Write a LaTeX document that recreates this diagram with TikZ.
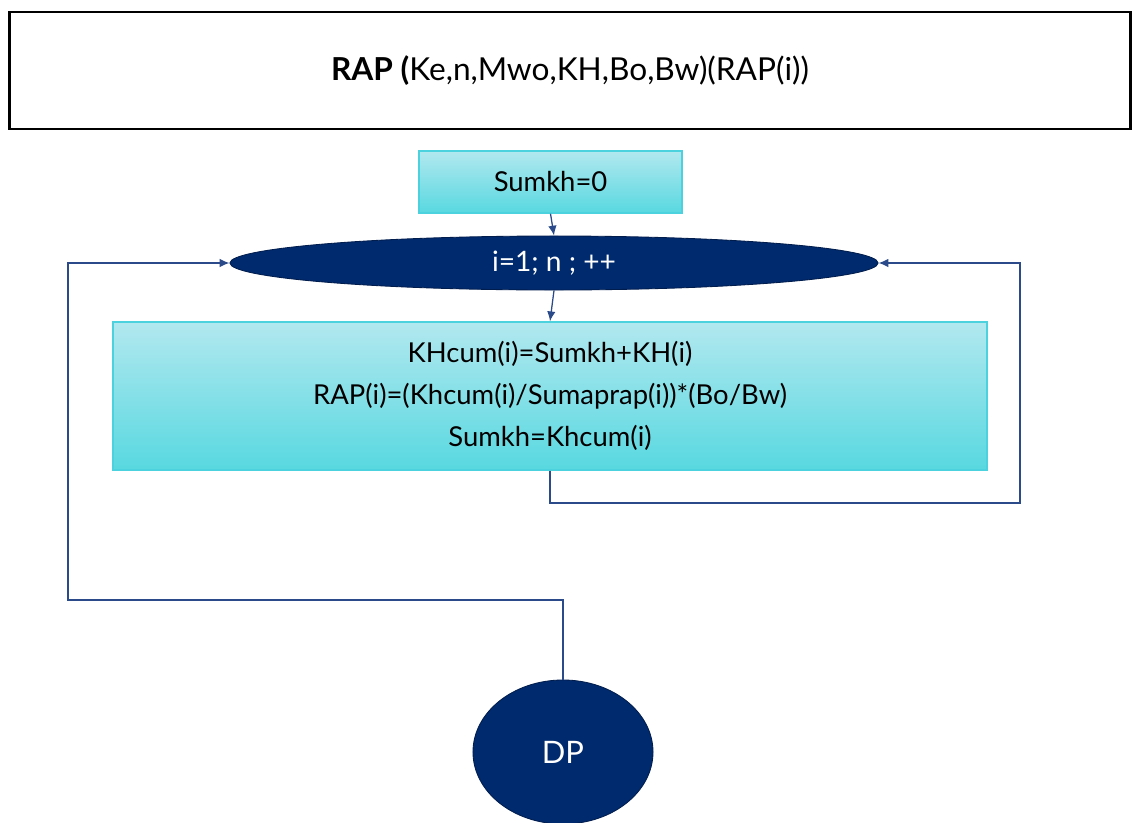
\documentclass[tikz,border=0pt]{standalone}
\usepackage{fontspec}
\setmainfont{Lato}
\usetikzlibrary{shapes.geometric,arrows.meta}
\definecolor{navy}{HTML}{002A6E}
\definecolor{cyanlite}{HTML}{B2E8EF}
\definecolor{cyandeep}{HTML}{58D8E0}
\definecolor{cyanedge}{HTML}{4CD2DE}
\definecolor{wire}{HTML}{2A4A8A}

\begin{document}
\begin{tikzpicture}[x=0.025cm,y=-0.025cm,
  headbox/.style={draw=black,line width=2pt,rectangle,inner sep=0pt,minimum width=28cm,minimum height=2.925cm,font=\fontsize{22.5}{26}\selectfont},
  calcbox/.style={draw=cyanedge,line width=1pt,top color=cyanlite,bottom color=cyandeep,rectangle,inner sep=0pt,align=center,font=\fontsize{19.5}{30}\selectfont},
  loophead/.style={ellipse,fill=navy,draw=navy!70!black,line width=0.6pt,text=white,inner sep=0pt,font=\fontsize{20}{24}\selectfont},
  link/.style={draw=wire,line width=0.9pt,-{Latex[length=7pt,width=6pt]}}]
\useasboundingbox (0,0) rectangle (1134,823);
% header
\node[headbox] (head) at (570,70.5) {\textbf{RAP (}Ke,n,Mwo,KH,Bo,Bw)(RAP(i))};
% flow
\node[calcbox,minimum width=6.575cm,minimum height=1.55cm] (init) at (550.5,182) {Sumkh=0};
\node[loophead,minimum width=16.2cm,minimum height=1.35cm] (loop) at (554,263) {i=1; n ; ++};
\node[calcbox,minimum width=21.85cm,minimum height=3.7cm] (body) at (550,396)
  {KHcum(i)=Sumkh+KH(i)\\RAP(i)=(Khcum(i)/Sumaprap(i))*(Bo/Bw)\\Sumkh=Khcum(i)};
\node[loophead,minimum width=4.5cm,minimum height=3.6cm,font=\fontsize{22}{26}\selectfont] (dp) at (563,752) {DP};
% connectors
\coordinate (backR) at (1020,503);
\coordinate (backL) at (68,600);
\draw[link] (init.south) -- (loop.north);
\draw[link] (loop.south) -- (body.north);
\draw[link] (body.south) |- (backR) |- (loop.east);
\draw[link] (dp.north) |- (backL) |- (loop.west);
\end{tikzpicture}
\end{document}
